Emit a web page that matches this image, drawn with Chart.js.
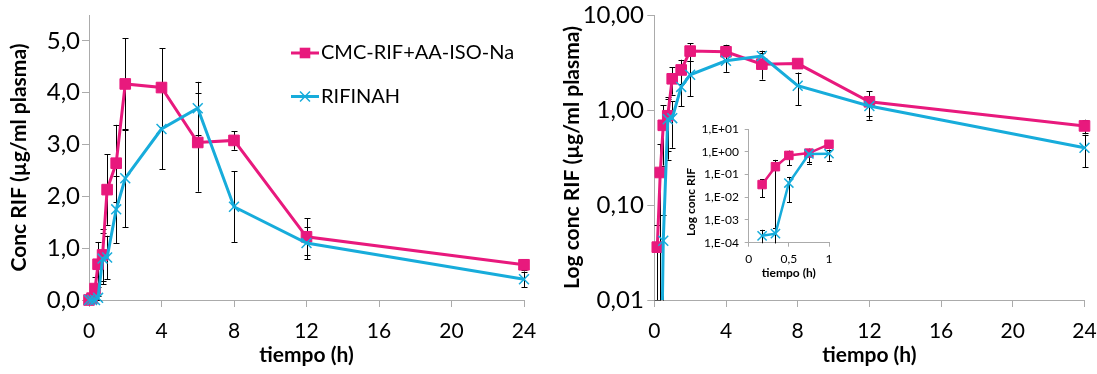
<!DOCTYPE html>
<html>
<head>
<meta charset="utf-8">
<title>Concentración plasmática de rifampicina</title>
<script src="https://cdn.jsdelivr.net/npm/chart.js@4.4.1/dist/chart.umd.min.js"></script>
<style>
  html, body { margin: 0; padding: 0; background: #fff; }
  #wrap { position: relative; width: 1097px; height: 374px; overflow: hidden; background: #fff; }
  canvas { position: absolute; }
  #lineal { left: 0; top: 0; }
  #logaritmico { left: 560px; top: 0; }
  #detalle { left: 680px; top: 119px; }
</style>
</head>
<body>
<div id="wrap">
  <canvas id="lineal" width="560" height="374"></canvas>
  <canvas id="logaritmico" width="537" height="374"></canvas>
  <canvas id="detalle" width="160" height="169"></canvas>
</div>
<script>
// Sampling times (h)
const TIEMPO = [0, 0.167, 0.333, 0.5, 0.75, 1, 1.5, 2, 4, 6, 8, 12, 24];

// CMC-RIF+AA-ISO-Na: mean and SD (µg/ml)
const CMC_MEDIA = [0, 0.036, 0.22, 0.69, 0.87, 2.13, 2.64, 4.17, 4.10, 3.04, 3.08, 1.22, 0.68];
const CMC_DE    = [0, 0.026, 0.22, 0.43, 0.50, 0.68, 0.74, 0.88, 0.76, 0.95, 0.18, 0.36, 0.11];

// RIFINAH: mean and SD (µg/ml)
const RIF_MEDIA = [0, 0.0002, 0.00025, 0.042, 0.80, 0.82, 1.75, 2.35, 3.30, 3.70, 1.80, 1.10, 0.40];
const RIF_DE    = [0, 0.00017, 0.0002, 0.036, 0.50, 0.42, 0.65, 0.95, 0.78, 0.51, 0.68, 0.31, 0.15];

const SERIES = ['CMC-RIF+AA-ISO-Na', 'RIFINAH'];

// Axis ticks
const X_TICKS = [0, 4, 8, 12, 16, 20, 24];
const Y_TICKS_LIN = [0, 1, 2, 3, 4, 5];
const Y_TICKS_LOG = [0.01, 0.1, 1, 10];
const DET_X_TICKS = [0, 0.5, 1];
const DET_Y_TICKS = [1e-4, 1e-3, 1e-2, 1e-1, 1, 10];

const FONT = 'Lato, "Open Sans", sans-serif';
const GRIS = '#ABABAB';
const ROSA = '#E8197D';
const AZUL = '#17ACDB';

const coma = (v, d) => v.toFixed(d).replace('.', ',');
const cientifica = v => {
  const e = Math.round(Math.log10(v));
  return '1,E' + (e < 0 ? '-' : '+') + String(Math.abs(e)).padStart(2, '0');
};

function puntos(medias, des, incluir) {
  const out = [];
  TIEMPO.forEach((t, i) => {
    if (incluir(t, medias[i])) out.push({ x: t, y: medias[i], sd: des[i] });
  });
  return out;
}

function estilo(i, pequeno) {
  const s = i === 0
    ? { borderColor: ROSA, backgroundColor: ROSA, pointStyle: 'rect',
        pointRadius: pequeno ? 6 : 7.5, pointBorderWidth: 1,
        pointBackgroundColor: ROSA, pointBorderColor: ROSA, order: 1 }
    : { borderColor: AZUL, backgroundColor: AZUL, pointStyle: 'crossRot',
        pointRadius: pequeno ? 6.5 : 7, pointBorderWidth: 1.5,
        pointBackgroundColor: AZUL, pointBorderColor: AZUL, order: 0 };
  return Object.assign(s, { label: SERIES[i], borderWidth: pequeno ? 2.5 : 3,
    tension: 0, fill: false, pointHoverRadius: s.pointRadius });
}

// Marker glyph shared by the legend
function marcador(ctx, i, x, y, pequeno) {
  ctx.save();
  if (i === 0) {
    const h = pequeno ? 4.2 : 5.3;
    ctx.fillStyle = ROSA;
    ctx.fillRect(x - h, y - h, 2 * h, 2 * h);
  } else {
    const h = pequeno ? 4.6 : 5;
    ctx.strokeStyle = AZUL; ctx.lineWidth = 1.5;
    ctx.beginPath();
    ctx.moveTo(x - h, y - h); ctx.lineTo(x + h, y + h);
    ctx.moveTo(x - h, y + h); ctx.lineTo(x + h, y - h);
    ctx.stroke();
  }
  ctx.restore();
}

// Mean ± SD whiskers, drawn under the markers
const barrasError = {
  id: 'barrasError',
  beforeDatasetsDraw(chart, args, opts) {
    const { ctx, chartArea: a } = chart;
    const xs = chart.scales.x, ys = chart.scales.y;
    const log = ys.type === 'logarithmic';
    const cap = opts.cap || 3;
    ctx.save();
    if (opts.recortar) {
      ctx.beginPath();
      ctx.rect(a.left - 10, a.top - 10, a.width + 20, a.height + 10.5);
      ctx.clip();
    }
    ctx.strokeStyle = '#000';
    ctx.lineWidth = 1;
    chart.data.datasets.forEach(ds => {
      ds.data.forEach(p => {
        if (!p.sd) return;
        const x = Math.round(xs.getPixelForValue(p.x)) + 0.5;
        const yHi = ys.getPixelForValue(p.y + p.sd);
        const bajo = p.y - p.sd;
        const fuera = log && (bajo <= 0 || bajo < ys.min * 0.999);
        const yLo = fuera ? a.bottom + 20 : ys.getPixelForValue(bajo);
        ctx.beginPath();
        ctx.moveTo(x, yHi); ctx.lineTo(x, yLo);
        ctx.moveTo(x - cap, Math.round(yHi) + 0.5); ctx.lineTo(x + cap, Math.round(yHi) + 0.5);
        if (!fuera) { ctx.moveTo(x - cap, Math.round(yLo) + 0.5); ctx.lineTo(x + cap, Math.round(yLo) + 0.5); }
        ctx.stroke();
      });
    });
    ctx.restore();
  }
};

// Legend placed inside the plot
const leyenda = {
  id: 'leyenda',
  afterDraw(chart, args, opts) {
    if (!opts.x) return;
    const ctx = chart.ctx;
    ctx.save();
    ctx.font = '20px ' + FONT;
    ctx.textBaseline = 'middle';
    ctx.fillStyle = '#000';
    SERIES.forEach((nombre, i) => {
      const y = opts.y + i * opts.dy;
      ctx.strokeStyle = i === 0 ? ROSA : AZUL;
      ctx.lineWidth = 3;
      ctx.beginPath();
      ctx.moveTo(opts.x, y); ctx.lineTo(opts.x + opts.largo, y);
      ctx.stroke();
      marcador(ctx, i, opts.x + opts.largo / 2, y, false);
      ctx.fillText(nombre, opts.x + opts.largo + 2, y);
    });
    ctx.restore();
  }
};

// Rotated caption for the small chart
const rotulo = {
  id: 'rotulo',
  afterDraw(chart, args, opts) {
    if (!opts.texto) return;
    const ctx = chart.ctx;
    ctx.save();
    ctx.translate(opts.x, opts.y);
    ctx.rotate(-Math.PI / 2);
    ctx.font = 'bold 12px ' + FONT;
    ctx.fillStyle = '#000';
    ctx.textAlign = 'center';
    ctx.textBaseline = 'middle';
    ctx.fillText(opts.texto, 0, 0);
    ctx.restore();
  }
};

function ejes(cfg) {
  const rejilla = { display: true, drawOnChartArea: false, drawTicks: true,
    tickLength: cfg.tick, color: GRIS, tickColor: GRIS, lineWidth: 1 };
  const borde = { display: true, color: GRIS, width: 1 };
  return {
    x: {
      type: 'linear', min: cfg.xMin, max: cfg.xMax, offset: false,
      afterBuildTicks: s => { s.ticks = cfg.xTicks.map(v => ({ value: v })); },
      afterFit: s => { s.height = cfg.altoX; s.paddingLeft = 0; s.paddingRight = 0; },
      grid: rejilla, border: borde,
      ticks: { font: { family: FONT, size: cfg.fuente }, color: '#000', padding: cfg.padX,
        maxRotation: 0, autoSkip: false, callback: cfg.fmtX },
      title: { display: true, text: 'tiempo (h)', color: '#000',
        font: { family: FONT, size: cfg.fuenteTitulo, weight: 'bold' },
        padding: { top: 0, bottom: cfg.padTituloX } }
    },
    y: {
      type: cfg.tipoY, min: cfg.yMin, max: cfg.yMax,
      afterBuildTicks: s => { s.ticks = cfg.yTicks.map(v => ({ value: v })); },
      afterFit: s => { s.width = cfg.anchoY; s.paddingTop = 0; s.paddingBottom = 0; },
      grid: rejilla, border: borde,
      ticks: { font: { family: FONT, size: cfg.fuenteY || cfg.fuente }, color: '#000', padding: cfg.padY,
        autoSkip: false, callback: cfg.fmtY },
      title: { display: !!cfg.tituloY, text: cfg.tituloY || '', color: '#000',
        font: { family: FONT, size: cfg.fuenteTitulo, weight: 'bold' },
        padding: { top: cfg.padTituloY, bottom: 0 } }
    }
  };
}

function grafico(id, cfg) {
  return new Chart(document.getElementById(id), {
    type: 'line',
    data: { datasets: cfg.datasets },
    options: {
      responsive: false, animation: false, events: [],
      layout: { padding: cfg.relleno },
      scales: ejes(cfg),
      plugins: {
        legend: { display: false }, tooltip: { enabled: false },
        barrasError: { recortar: cfg.recortar, cap: cfg.cap },
        leyenda: cfg.leyenda || {},
        rotulo: cfg.rotulo || {}
      }
    },
    plugins: [barrasError, leyenda, rotulo]
  });
}

// Linear concentration-time profile
grafico('lineal', {
  datasets: [
    Object.assign(estilo(0, false), { data: puntos(CMC_MEDIA, CMC_DE, () => true), clip: false }),
    Object.assign(estilo(1, false), { data: puntos(RIF_MEDIA, RIF_DE, () => true), clip: false })
  ],
  relleno: { left: 0, top: 15, right: 36, bottom: 0 },
  xMin: 0, xMax: 24, xTicks: X_TICKS, fmtX: v => String(v),
  tipoY: 'linear', yMin: 0, yMax: 5.5, yTicks: Y_TICKS_LIN, fmtY: v => coma(v, 1),
  anchoY: 89, altoX: 74, tick: 7, fuente: 21, fuenteY: 24, fuenteTitulo: 21,
  padX: 12, padY: 2, padTituloX: 6, padTituloY: 7,
  tituloY: 'Conc RIF (µg/ml plasma)', cap: 3, recortar: false,
  leyenda: { x: 291, y: 53, dy: 43.5, largo: 28 }
});

// Semi-logarithmic profile
grafico('logaritmico', {
  datasets: [
    Object.assign(estilo(0, false), { data: puntos(CMC_MEDIA, CMC_DE, (t, v) => v > 0),
      clip: { left: 10, top: 10, right: 10, bottom: 0 } }),
    Object.assign(estilo(1, false), { data: puntos(RIF_MEDIA, RIF_DE, (t, v) => v > 0),
      clip: { left: 10, top: 10, right: 10, bottom: 0 } })
  ],
  relleno: { left: 0, top: 15, right: 12.5, bottom: 0 },
  xMin: 0, xMax: 24, xTicks: X_TICKS, fmtX: v => String(v),
  tipoY: 'logarithmic', yMin: 0.01, yMax: 10, yTicks: Y_TICKS_LOG, fmtY: v => coma(v, 2),
  anchoY: 94.3, altoX: 74, tick: 7, fuente: 21, fuenteY: 24, fuenteTitulo: 21,
  padX: 12, padY: 3.5, padTituloX: 6, padTituloY: 0,
  tituloY: 'Log conc RIF (µg/ml plasma)', cap: 3, recortar: true,
  leyenda: { x: 853, y: 225, dy: 43.5, largo: 28 }
});

// Detail of the first hour
grafico('detalle', {
  datasets: [
    Object.assign(estilo(0, true), { data: puntos(CMC_MEDIA, CMC_DE, (t, v) => t > 0 && t <= 1), clip: false }),
    Object.assign(estilo(1, true), { data: puntos(RIF_MEDIA, RIF_DE, (t, v) => t > 0 && t <= 1), clip: false })
  ],
  relleno: { left: 0, top: 10, right: 11, bottom: 0 },
  xMin: 0, xMax: 1, xTicks: DET_X_TICKS, fmtX: v => (v === 0 || v === 1) ? String(v) : coma(v, 1),
  tipoY: 'logarithmic', yMin: 1e-4, yMax: 10, yTicks: DET_Y_TICKS, fmtY: cientifica,
  anchoY: 68.7, altoX: 45.3, tick: 4, fuente: 12, fuenteTitulo: 12,
  padX: 5, padY: 5.7, padTituloX: 7.8, padTituloY: 0,
  tituloY: '', cap: 2.5, recortar: true,
  rotulo: { texto: 'Log conc RIF', x: 11, y: 83 }
});
</script>
</body>
</html>
